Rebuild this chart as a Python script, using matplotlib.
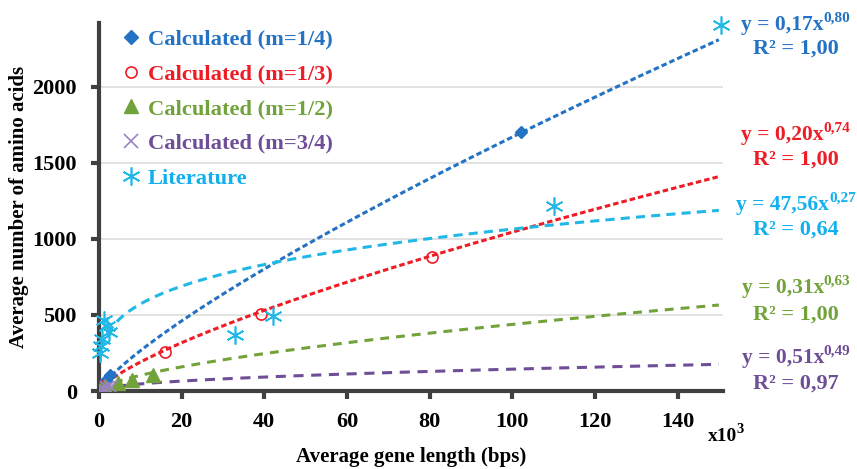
import matplotlib
matplotlib.use("Agg")
import matplotlib.pyplot as plt
from matplotlib.lines import Line2D
import numpy as np

# ---------------- data (x in thousands of bps) ----------------
blue_x = [0.3, 1.0, 1.8, 2.7, 102.0]
blue_y = [10, 40, 72, 102, 1700]
red_x = [0.3, 1.0, 16.0, 39.2, 80.5]
red_y = [8, 33, 255, 505, 880]
green_x = [0.2, 1.5, 4.5, 8.0, 13.0]
green_y = [5, 30, 50, 75, 105]
purple_x = [0.1, 0.4, 1.0, 2.0, 3.0]
purple_y = [3, 10, 15, 20, 25]
lit_x = [0.3, 0.5, 0.8, 1.3, 2.0, 2.5, 32.8, 42.0, 110.0, 150.5]
lit_y = [250, 295, 340, 470, 425, 385, 370, 495, 1215, 2410]

series_labels = ["Calculated (m=1/4)", "Calculated (m=1/3)", "Calculated (m=1/2)",
                 "Calculated (m=3/4)", "Literature"]

# power-law trendlines y = a * (x_bps)^b
trend_a = [0.167, 0.2084, 0.31, 0.51, 47.56]
trend_b = [0.80, 0.74, 0.63, 0.49, 0.27]
trend_x0 = [0.3, 0.3, 0.2, 0.1, 0.15]
eq_base = ["y = 0,17x", "y = 0,20x", "y = 47,56x", "y = 0,31x", "y = 0,51x"]
eq_sup = ["0,80", "0,74", "0,27", "0,63", "0,49"]
r2_text = ["R² = 1,00", "R² = 1,00", "R² = 0,64", "R² = 1,00", "R² = 0,97"]

x_ticks = [0, 20, 40, 60, 80, 100, 120, 140]
y_ticks = [0, 500, 1000, 1500, 2000]

# ---------------- style ----------------
c_blue = "#2372C4"
c_red = "#EE1C25"
c_green = "#72A23A"
c_purple = "#6E4E96"
c_cyan = "#22B8E6"
c_cyan_txt = "#12B0EE"
serif = "Liberation Serif"

W, H = 857, 469
fig = plt.figure(figsize=(W / 100, H / 100), dpi=100)
L, R, T, B = 99, 723, 23, 391
ax = fig.add_axes([L / W, 1 - B / H, (R - L) / W, (B - T) / H])
ax.set_xlim(0, 151)
ax.set_ylim(0, 2420)

for yv in y_ticks[1:]:
    ax.axhline(yv, color="#DDDDDD", lw=1.2, zorder=0)

# trendlines
colors = [c_blue, c_red, c_green, c_purple, c_cyan]
dashes = [(1.8, 1.0), (1.8, 1.0), (2.9, 2.3), (3.3, 2.5), (3.0, 2.0)]
for i in range(5):
    xs = np.linspace(trend_x0[i], 150, 400)
    ys = trend_a[i] * (xs * 1000) ** trend_b[i]
    ax.plot(xs, ys, color=colors[i], lw=2.2, dashes=dashes[i], zorder=2,
            solid_capstyle="butt", dash_capstyle="butt")

# markers
ast = (6, 2, 0)
ax.plot(blue_x, blue_y, ls="none", marker="D", ms=6.5, color=c_blue, zorder=3)
ax.plot(red_x, red_y, ls="none", marker="o", ms=8, mfc="none", mec=c_red, mew=1.2, zorder=3)
ax.plot(green_x, green_y, ls="none", marker="^", ms=10, color=c_green, zorder=3)
ax.plot(purple_x, purple_y, ls="none", marker="x", ms=10, mew=1.2, color="#9B82C4", zorder=3)
ax.plot(lit_x, lit_y, ls="none", marker=ast, ms=13, mew=1.2, color=c_cyan, zorder=4, clip_on=False)

# spines / ticks
for s in ["top", "right"]:
    ax.spines[s].set_visible(False)
for s in ["left", "bottom"]:
    ax.spines[s].set_color("#404040")
    ax.spines[s].set_linewidth(3)
ax.set_xticks(x_ticks)
ax.set_yticks(y_ticks)
ax.tick_params(direction="out", length=6, width=3, color="#404040")
ax.tick_params(axis="x", pad=9)
ax.tick_params(axis="y", pad=10)
for lab in ax.get_xticklabels() + ax.get_yticklabels():
    lab.set_fontfamily(serif)
    lab.set_fontweight("bold")
    lab.set_fontsize(16)

ax.set_xlabel("Average gene length (bps)", fontfamily=serif, fontweight="bold",
              fontsize=15, labelpad=11)
ax.set_ylabel("Average number of amino acids", fontfamily=serif, fontweight="bold",
              fontsize=15, labelpad=2)

# x10^3 label
fig.text(708 / W, 1 - 436 / H, "x10", fontfamily=serif, fontweight="bold",
         fontsize=14, ha="left", va="center")
fig.text(736 / W, 1 - 429 / H, "3", fontfamily=serif, fontweight="bold",
         fontsize=10.5, ha="left", va="center")

# legend
handles = [
    Line2D([], [], ls="none", marker="D", ms=7, color=c_blue),
    Line2D([], [], ls="none", marker="o", ms=8, mfc="none", mec=c_red, mew=1.2),
    Line2D([], [], ls="none", marker="^", ms=10, color=c_green),
    Line2D([], [], ls="none", marker="x", ms=10, mew=1.2, color="#9B82C4"),
    Line2D([], [], ls="none", marker=ast, ms=13, mew=1.2, color=c_cyan),
]
leg = ax.legend(handles, series_labels, loc="upper left",
                bbox_to_anchor=((122 - L) / (R - L), 1 - (29 - T) / (B - T)),
                frameon=False, handlelength=0.8, handletextpad=0.35,
                labelspacing=0.62, borderpad=0, borderaxespad=0,
                prop={"family": serif, "weight": "bold", "size": 16.2})
for txt, c in zip(leg.get_texts(), [c_blue, c_red, c_green, c_purple, c_cyan_txt]):
    txt.set_color(c)

# equation labels
eq_colors = [c_blue, c_red, c_cyan_txt, c_green, c_purple]
eq_y = [25, 135, 205, 288, 358]
r2_y = [49, 160, 230, 315, 384]
xc = 796
fig.canvas.draw()
rend = fig.canvas.get_renderer()
for i in range(5):
    t1 = fig.text(0, 0, eq_base[i], fontfamily=serif, fontweight="bold", fontsize=15.5,
                  color=eq_colors[i], ha="left", va="center", transform=None)
    t2 = fig.text(0, 0, eq_sup[i], fontfamily=serif, fontweight="bold", fontsize=11,
                  color=eq_colors[i], ha="left", va="center", transform=None)
    w1 = t1.get_window_extent(rend).width
    w2 = t2.get_window_extent(rend).width
    x0 = xc - (w1 + w2) / 2
    t1.set_position((x0, H - eq_y[i]))
    t2.set_position((x0 + w1, H - eq_y[i] + 7))
    fig.text(xc / W, 1 - r2_y[i] / H, r2_text[i], fontfamily=serif, fontweight="bold",
             fontsize=16, color=eq_colors[i], ha="center", va="center")

fig.savefig("out.png", dpi=100)
